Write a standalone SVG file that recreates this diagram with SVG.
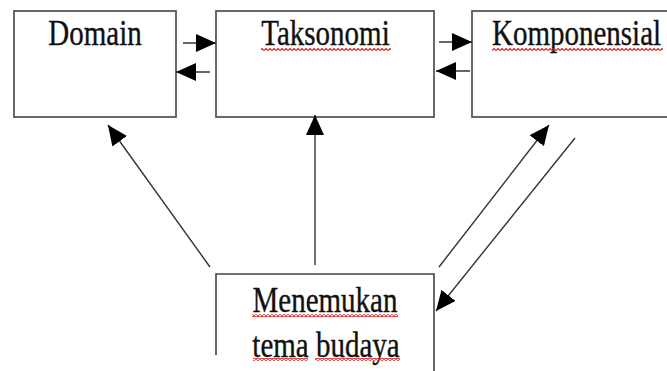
<svg xmlns="http://www.w3.org/2000/svg" width="667" height="371" viewBox="0 0 667 371">
<style>
.box{fill:#fff;stroke:#444;stroke-width:1.6}
.open{fill:none;stroke:#444;stroke-width:1.6}
.lbl{font-family:"Liberation Serif","Times New Roman",serif;font-size:29px;fill:#111;stroke:#111;stroke-width:0.3}
.con{stroke:#333;stroke-width:1.4;fill:none;marker-end:url(#ah)}
.wave{fill:url(#zz)}
</style>
<defs>
<marker id="ah" markerUnits="userSpaceOnUse" viewBox="0 0 20 18" markerWidth="20" markerHeight="18" refX="20" refY="9" orient="auto">
<path d="M0,0 L20,9 L0,18 z" fill="#000"/>
</marker>
<pattern id="zz" patternUnits="userSpaceOnUse" width="4" height="3">
<polyline points="0,2.5 2,0.5 4,2.5" fill="none" stroke="#e02020" stroke-width="1.1"/>
</pattern>
</defs>
<rect width="667" height="371" fill="#fff"/>
<g id="domain">
<rect class="box" x="14" y="11" width="162" height="106"/>
<text class="lbl" text-anchor="middle" transform="translate(95,45) scale(1,1.25)">Domain</text>
</g>
<g id="taksonomi">
<rect class="box" x="216" y="11" width="218" height="106"/>
<text class="lbl" text-anchor="middle" transform="translate(325.5,45) scale(1,1.25)">Taksonomi</text>
<rect class="wave" x="261" y="48" width="130" height="3"/>
</g>
<g id="komponensial">
<rect class="box" x="472" y="11" width="200" height="106"/>
<text class="lbl" transform="translate(492,45) scale(1,1.25)">Komponensial</text>
<rect class="wave" x="492" y="48" width="171" height="3"/>
</g>
<g id="menemukan">
<path class="open" d="M216,355 V274 H434 V371"/>
<text class="lbl" text-anchor="middle" transform="translate(325,312) scale(1,1.25)">Menemukan</text>
<text class="lbl" text-anchor="middle" transform="translate(326,357) scale(1,1.25)">tema budaya</text>
<rect class="wave" x="252" y="314" width="146" height="3"/>
<rect class="wave" x="253" y="358" width="55" height="3"/>
<rect class="wave" x="315" y="358" width="85" height="3"/>
</g>
<g id="connectors">
<line class="con" x1="183" y1="43" x2="216" y2="43"/>
<line class="con" x1="210" y1="72" x2="176" y2="72"/>
<line class="con" x1="439" y1="42" x2="472" y2="42"/>
<line class="con" x1="470" y1="71" x2="436" y2="71"/>
<line class="con" x1="210" y1="267" x2="108" y2="125"/>
<line class="con" x1="315" y1="265" x2="315" y2="115"/>
<line class="con" x1="439" y1="267" x2="549" y2="125"/>
<line class="con" x1="575" y1="138" x2="436" y2="311"/>
</g>
</svg>
